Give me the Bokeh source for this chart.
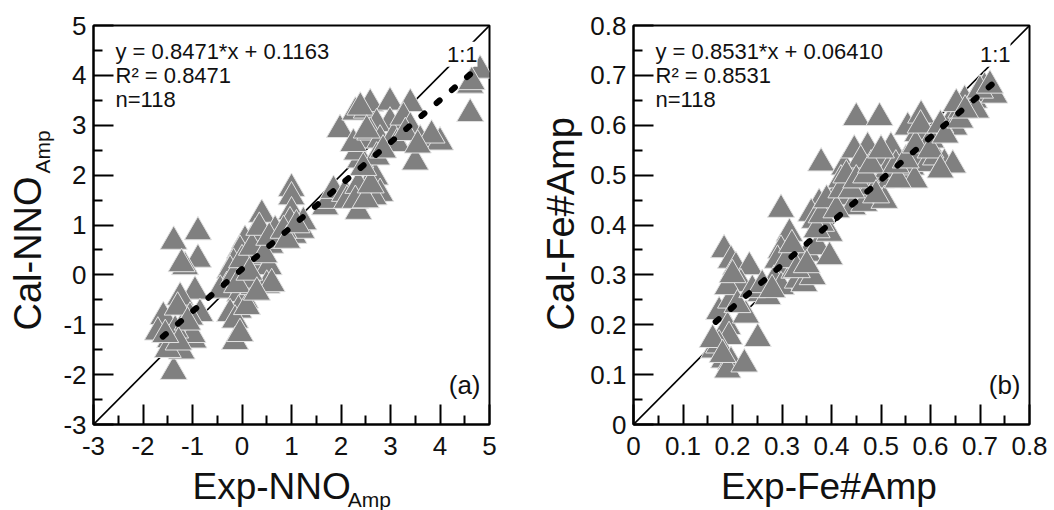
import math
from bokeh.plotting import figure
from bokeh.models import FixedTicker, Label, Range1d
from bokeh.layouts import row, column
from bokeh.embed import file_html
from bokeh.resources import INLINE

# ---------------- data: panel (a) ----------------
nno_exp = [-1.38, -0.89, -0.89, -1.15, -1.22, -0.95, -1.20, -1.25, -0.85, -1.59, -1.20, -0.98,
           -1.00, -1.45, -1.70, -1.38, -1.22, -1.50, -1.35, -1.05, -1.30, -1.10, -1.28, -1.55,
           0.40, 0.27, 0.06, -0.04, -0.17, -0.24, 0.06, 0.23, 0.13, 0.67, 0.57, 0.74,
           0.54, 0.50, 0.60, -0.31, -0.44, -0.04, 0.06, -0.07, -0.24, -0.14, 0.10, -0.14,
           -0.04, 0.23, -0.17, 0.13, 0.00, 0.20, 0.35, 0.45, -0.10, 0.15, 0.30, 0.55,
           1.00, 1.00, 1.00, 0.97, 1.04, 1.20, 1.24, 0.84, 0.91, 1.10,
           1.68, 1.75, 1.85, 2.08, 2.12, 2.35, 2.52, 2.69, 2.79, 2.66, 2.35, 2.29, 2.50, 2.60,
           1.98, 2.39, 2.32, 2.42, 2.25, 2.29, 2.52, 2.59, 2.39, 2.99, 3.40, 2.99, 2.72, 2.59,
           2.79, 3.06, 3.26, 3.40, 3.50, 3.60, 3.80, 4.00, 3.83, 3.13, 2.72, 2.52, 4.61, 4.61,
           4.81, 4.64, 2.45, 3.30, 2.85, 3.55]
nno_cal = [0.67, 0.86, 0.31, 0.16, 0.22, -0.33, -0.58, -0.45, -0.78, -0.84, -1.03, -1.31,
           -1.20, -1.30, -1.15, -1.94, -1.53, -1.50, -1.11, -0.85, -0.65, -0.95, -1.35, -1.20,
           1.21, 0.83, 0.69, 0.49, 0.23, 0.09, 0.09, 0.23, 0.36, 0.89, 0.59, 0.69,
           0.16, -0.21, -0.18, -0.24, -0.31, -0.38, -0.51, -0.71, -0.78, -0.91, -0.64, -1.34,
           -1.18, -0.24, -0.04, -0.11, 0.30, 0.55, 0.95, 0.40, -0.20, 0.05, -0.35, 0.75,
           1.73, 1.56, 1.26, 1.06, 0.79, 0.89, 1.06, 0.89, 0.69, 1.00,
           1.36, 1.49, 1.69, 1.63, 1.49, 1.27, 1.76, 1.96, 1.63, 1.56, 1.79, 1.49, 1.50, 1.80,
           2.91, 2.30, 2.46, 2.70, 2.63, 3.26, 3.30, 3.43, 3.36, 3.46, 3.43, 3.06, 3.03, 2.86,
           2.70, 2.76, 3.16, 2.96, 2.26, 2.70, 2.70, 2.66, 2.80, 2.63, 2.36, 2.90, 3.23, 3.80,
           4.10, 3.87, 2.15, 2.85, 2.50, 2.60]
nno_fit = {"slope": 0.8471, "intercept": 0.1163, "x_from": -1.6, "x_to": 4.62}
nno_range = [-3, 5]
nno_ticks = [-3, -2, -1, 0, 1, 2, 3, 4, 5]
nno_tick_labels = ["-3", "-2", "-1", "0", "1", "2", "3", "4", "5"]
nno_minor = [-2.5, -1.5, -0.5, 0.5, 1.5, 2.5, 3.5, 4.5]

# ---------------- data: panel (b) ----------------
fe_exp = [0.183, 0.173, 0.197, 0.190, 0.193, 0.163, 0.173, 0.183, 0.197, 0.190, 0.224, 0.251,
          0.227, 0.197, 0.207, 0.234, 0.217, 0.190, 0.257, 0.271, 0.298, 0.315, 0.298, 0.291,
          0.305, 0.284, 0.298, 0.325, 0.332, 0.345, 0.338, 0.362, 0.352, 0.372, 0.396, 0.396,
          0.379, 0.375, 0.359, 0.366, 0.379, 0.406, 0.426, 0.419, 0.433, 0.443, 0.450, 0.497,
          0.473, 0.493, 0.466, 0.459, 0.466, 0.480, 0.500, 0.507, 0.520, 0.514, 0.540, 0.561,
          0.554, 0.581, 0.574, 0.581, 0.594, 0.611, 0.601, 0.628, 0.645, 0.642, 0.648, 0.662,
          0.669, 0.652, 0.688, 0.702, 0.709, 0.729, 0.692, 0.568, 0.534, 0.446, 0.459,
          0.160, 0.180, 0.200, 0.210, 0.240, 0.260, 0.280, 0.310, 0.320, 0.330, 0.350, 0.370,
          0.380, 0.390, 0.410, 0.420, 0.430, 0.440, 0.450, 0.470, 0.480, 0.490, 0.530, 0.550,
          0.570, 0.580, 0.600, 0.620, 0.630, 0.660, 0.670, 0.700, 0.720, 0.620, 0.500]
fe_cal = [0.350, 0.226, 0.249, 0.196, 0.176, 0.149, 0.159, 0.129, 0.126, 0.109, 0.121, 0.172,
          0.219, 0.329, 0.316, 0.316, 0.282, 0.276, 0.262, 0.256, 0.431, 0.383, 0.349, 0.329,
          0.309, 0.289, 0.276, 0.309, 0.289, 0.282, 0.329, 0.296, 0.343, 0.356, 0.336, 0.383,
          0.524, 0.443, 0.423, 0.409, 0.403, 0.456, 0.516, 0.490, 0.456, 0.436, 0.615, 0.615,
          0.556, 0.530, 0.506, 0.476, 0.443, 0.476, 0.490, 0.449, 0.556, 0.510, 0.500, 0.516,
          0.596, 0.620, 0.583, 0.536, 0.523, 0.536, 0.570, 0.523, 0.520, 0.610, 0.596, 0.630,
          0.650, 0.643, 0.650, 0.663, 0.676, 0.660, 0.630, 0.490, 0.490, 0.550, 0.530,
          0.170, 0.140, 0.300, 0.240, 0.270, 0.280, 0.270, 0.330, 0.360, 0.310, 0.320, 0.390,
          0.420, 0.450, 0.430, 0.470, 0.500, 0.470, 0.490, 0.500, 0.520, 0.460, 0.520, 0.530,
          0.560, 0.600, 0.550, 0.600, 0.580, 0.610, 0.630, 0.670, 0.680, 0.510, 0.550]
fe_fit = {"slope": 0.8531, "intercept": 0.06410, "x_from": 0.166, "x_to": 0.743}
fe_range = [0, 0.8]
fe_ticks = [0, 0.1, 0.2, 0.3, 0.4, 0.5, 0.6, 0.7, 0.8]
fe_tick_labels = ["0", "0.1", "0.2", "0.3", "0.4", "0.5", "0.6", "0.7", "0.8"]
fe_minor = [0.05, 0.15, 0.25, 0.35, 0.45, 0.55, 0.65, 0.75]

FONT = "Liberation Sans"
TXT = "#111111"
PLOT_H = 466
TOTAL_H = 510
K = 0.38  # empirical shift of the label anchor relative to the text baseline


def strip(width, height):
    s = figure(width=width, height=height, x_range=Range1d(0, width),
               y_range=Range1d(0, height), output_backend="svg", toolbar_location=None,
               x_axis_location=None, y_axis_location=None, min_border=0)
    s.grid.visible = False
    s.outline_line_color = None
    s.background_fill_color = "white"
    s.border_fill_color = "white"
    return s


def txt_label(x, y, text, size, angle=0.0, align="left", units="data", bg=None):
    fs = float(size.replace("px", ""))
    if angle == 0.0:
        y = y + K * fs
    else:
        x = x - K * fs
    return Label(x=x, y=y, x_units=units, y_units=units, text=text, text_font=FONT,
                 text_font_size=size, text_color=TXT, text_baseline="alphabetic",
                 text_align=align, angle=angle, background_fill_color=bg)


def make_panel(xs, ys, fit, rng, ticks, tick_labels, minor, eq_text, r2_text, panel_tag,
               width, border_left, border_right, one_x):
    p = figure(width=width, height=PLOT_H, x_range=Range1d(rng[0], rng[1]),
               y_range=Range1d(rng[0], rng[1]), output_backend="svg",
               toolbar_location=None, min_border_left=border_left,
               min_border_right=border_right, min_border_top=25, min_border_bottom=42)
    p.grid.visible = False
    p.background_fill_color = "white"
    p.border_fill_color = "white"
    p.outline_line_color = "black"
    p.outline_line_width = 2
    overrides = {t: l for t, l in zip(ticks, tick_labels)}
    for ax in (p.xaxis[0], p.yaxis[0]):
        ax.ticker = FixedTicker(ticks=ticks, minor_ticks=minor)
        ax.major_label_overrides = overrides
        ax.axis_line_width = 2
        ax.axis_line_color = "black"
        ax.major_tick_in = 20
        ax.major_tick_out = 0
        ax.minor_tick_in = 9
        ax.minor_tick_out = 0
        ax.major_tick_line_width = 2
        ax.minor_tick_line_width = 2
        ax.major_tick_line_color = "black"
        ax.minor_tick_line_color = "black"
        ax.major_label_text_font = FONT
        ax.major_label_text_font_size = "26px"
        ax.major_label_text_color = TXT
        ax.axis_label_standoff = 0
    p.xaxis[0].major_label_standoff = 12
    p.yaxis[0].major_label_standoff = 7

    # 1:1 line
    p.line(x=rng, y=rng, line_color="black", line_width=1.6)
    # data
    p.scatter(xs, ys, marker="triangle", size=27, fill_color="#808080",
              line_color="#e2e2e2", line_width=1)
    # regression line
    fx = [fit["x_from"], fit["x_to"]]
    fy = [fit["slope"] * v + fit["intercept"] for v in fx]
    p.line(x=fx, y=fy, line_color="black", line_width=6, line_dash="4 16", line_cap="round")

    # annotation texts (screen units relative to the frame)
    for t, yy in ((eq_text, 365), (r2_text, 341), ("n=" + str(len(xs)), 317)):
        p.add_layout(txt_label(22, yy, t, "22px", units="screen"))
    p.add_layout(txt_label(one_x, 362, "1:1", "22px", align="right", units="screen", bg="white"))
    p.add_layout(txt_label(387, 30, panel_tag, "26px", align="right", units="screen"))
    return p


pa = make_panel(nno_exp, nno_cal, nno_fit, nno_range, nno_ticks, nno_tick_labels, nno_minor,
                "y = 0.8471*x + 0.1163", "R\u00b2 = 0.8471", "(a)", 472, 38, 38, 384)
pb = make_panel(fe_exp, fe_cal, fe_fit, fe_range, fe_ticks, fe_tick_labels, fe_minor,
                "y = 0.8531*x + 0.06410", "R\u00b2 = 0.8531", "(b)", 471, 50, 25, 377)

# axis titles in narrow strips (allow subscripts); positions = text baselines
ya = strip(55, TOTAL_H)
ya.add_layout(txt_label(42, 180, "Cal-NNO", "38px", angle=math.pi / 2))
ya.add_layout(txt_label(50, 180 + 4.055 * 38 + 3, "Amp", "21px", angle=math.pi / 2))

xa = strip(472, TOTAL_H - PLOT_H)
xa.add_layout(txt_label(118, 10, "Exp-NNO", "37px"))
xa.add_layout(txt_label(303, 3, "Amp", "21px"))

yb = strip(56, TOTAL_H)
yb.add_layout(txt_label(48, 180, "Cal-Fe#Amp", "38px", angle=math.pi / 2))

xb = strip(471, TOTAL_H - PLOT_H)
xb.add_layout(txt_label(104, 10, "Exp-Fe#Amp", "37px"))

layout = row(ya, column(pa, xa, spacing=0), yb, column(pb, xb, spacing=0), spacing=0)
open("out.html", "w").write(file_html(layout, INLINE))
